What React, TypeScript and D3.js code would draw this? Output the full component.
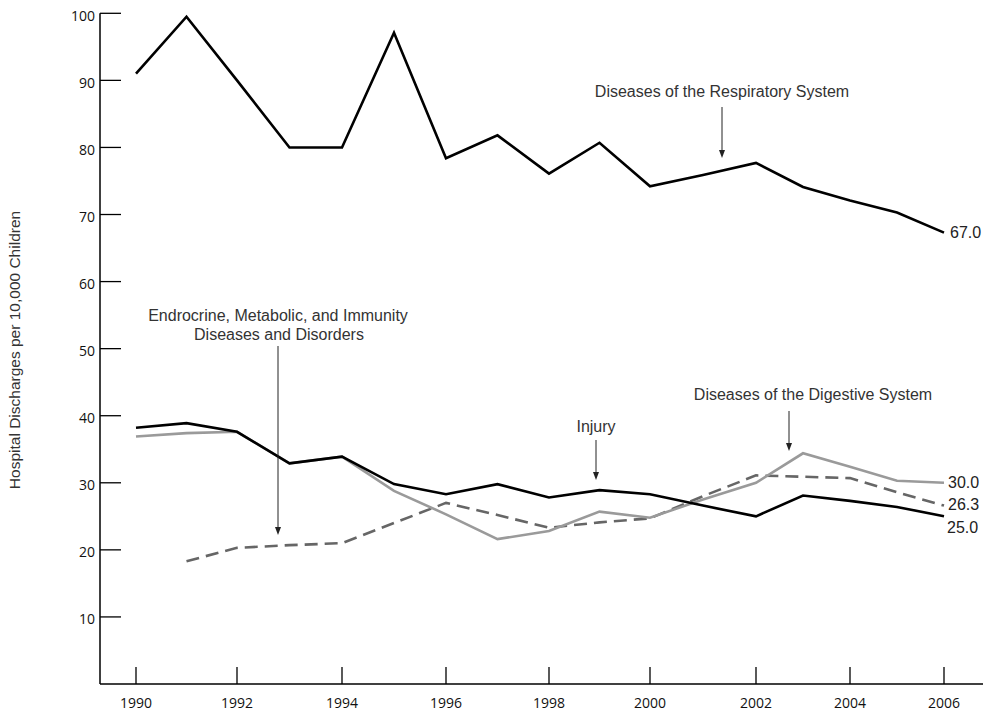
import React from "react";
import * as d3 from "d3";

const years = [1990, 1991, 1992, 1993, 1994, 1995, 1996, 1997, 1998, 1999, 2000, 2001, 2002, 2003, 2004, 2005, 2006];
const respiratory = [91.0, 99.5, 90.0, 80.0, 80.0, 97.1, 78.4, 81.8, 76.1, 80.7, 74.2, 75.9, 77.7, 74.1, 72.1, 70.3, 67.3];
const injury = [38.2, 38.9, 37.6, 32.9, 33.9, 29.8, 28.3, 29.8, 27.8, 28.9, 28.3, 26.6, 25.0, 28.1, 27.3, 26.4, 25.0];
const digestive = [36.9, 37.4, 37.6, 32.9, 33.9, 28.8, 25.3, 21.6, 22.8, 25.7, 24.8, 27.5, 30.0, 34.4, 32.4, 30.3, 30.0];
const endocrine: (number | null)[] = [null, 18.3, 20.3, 20.7, 21.0, 24.0, 27.0, 25.2, 23.3, 24.1, 24.7, 28.0, 31.1, 30.9, 30.7, 28.6, 26.6];

const xTickYears = [1990, 1992, 1994, 1996, 1998, 2000, 2002, 2004, 2006];
const yTicks = [10, 20, 30, 40, 50, 60, 70, 80, 90, 100];
const endLabels = [
  { text: "67.0", value: 67.3, dx: 950 },
  { text: "30.0", value: 30.0, dx: 948 },
  { text: "26.3", value: 26.8, dx: 948 },
  { text: "25.0", value: 23.3, dx: 947 },
];

const W = 983;
const H = 711;

export default function App() {
  // the original axis spacing is slightly uneven; use measured tick positions
  const x = d3.scaleLinear().domain(xTickYears).range([136, 237, 342, 446, 549, 650, 756, 850, 944]);
  const y = d3.scaleLinear().domain([0, 100]).range([684, 13.3]);

  const mk = (vals: (number | null)[]) =>
    d3
      .line<number>()
      .defined((_, i) => vals[i] != null)
      .x((_, i) => x(years[i]))
      .y((_, i) => y(vals[i] as number))(years as any) as string;

  const axisFont = "'Open Sans', sans-serif";
  const annFont = "'Liberation Sans', Arial, sans-serif";
  const annColor = "#333";

  const Arrow = ({ ax, y1, y2 }: { ax: number; y1: number; y2: number }) => (
    <g>
      <line x1={ax} x2={ax} y1={y1} y2={y2 - 6} stroke="#222" strokeWidth={1} />
      <path d={`M${ax - 3},${y2 - 8} L${ax + 3},${y2 - 8} L${ax},${y2} Z`} fill="#222" />
    </g>
  );

  return (
    <svg width={W} height={H} style={{ position: "absolute", left: 0, top: 0, background: "#fff" }}>
      {/* Y axis */}
      <line x1={100} x2={100} y1={y(100)} y2={684} stroke="#000" strokeWidth={1.5} />
      {yTicks.map((t) => (
        <g key={t}>
          <line x1={100} x2={121} y1={y(t)} y2={y(t)} stroke="#000" strokeWidth={1.3} />
          <text x={95} y={y(t) + 7.2} textAnchor="end" fontFamily={axisFont} fontSize={14} fill="#111">
            {t}
          </text>
        </g>
      ))}
      {/* X axis */}
      <line x1={100} x2={983} y1={684} y2={684} stroke="#000" strokeWidth={1.5} />
      {xTickYears.map((t) => (
        <g key={t}>
          <line x1={x(t)} x2={x(t)} y1={667} y2={684} stroke="#000" strokeWidth={1.3} />
          <text x={x(t)} y={708} textAnchor="middle" fontFamily={axisFont} fontSize={14} fill="#111">
            {t}
          </text>
        </g>
      ))}
      <text
        transform={`translate(20,350) rotate(-90)`}
        textAnchor="middle"
        fontFamily={annFont}
        fontSize={15.5}
        fill={annColor}
      >
        Hospital Discharges per 10,000 Children
      </text>

      {/* Series */}
      <path d={mk(endocrine)} fill="none" stroke="#666" strokeWidth={2.6} strokeDasharray="13,7" />
      <path d={mk(digestive)} fill="none" stroke="#9a9a9a" strokeWidth={2.6} />
      <path d={mk(injury)} fill="none" stroke="#000" strokeWidth={2.6} />
      <path d={mk(respiratory)} fill="none" stroke="#000" strokeWidth={2.6} />

      {/* End value labels */}
      {endLabels.map((l) => (
        <text key={l.text} x={l.dx} y={y(l.value) + 5.5} fontFamily={annFont} fontSize={16} fill="#222">
          {l.text}
        </text>
      ))}

      {/* Annotations */}
      <text x={722} y={97} textAnchor="middle" fontFamily={annFont} fontSize={16} fill={annColor}>
        Diseases of the Respiratory System
      </text>
      <Arrow ax={722} y1={107} y2={158} />

      <text x={278} y={321} textAnchor="middle" fontFamily={annFont} fontSize={16} fill={annColor}>
        Endrocrine, Metabolic, and Immunity
      </text>
      <text x={279} y={340} textAnchor="middle" fontFamily={annFont} fontSize={16} fill={annColor}>
        Diseases and Disorders
      </text>
      <Arrow ax={278} y1={346} y2={535} />

      <text x={596} y={432} textAnchor="middle" fontFamily={annFont} fontSize={16} fill={annColor}>
        Injury
      </text>
      <Arrow ax={596} y1={440} y2={480} />

      <text x={813} y={400} textAnchor="middle" fontFamily={annFont} fontSize={16} fill={annColor}>
        Diseases of the Digestive System
      </text>
      <Arrow ax={789} y1={411} y2={451} />
    </svg>
  );
}
